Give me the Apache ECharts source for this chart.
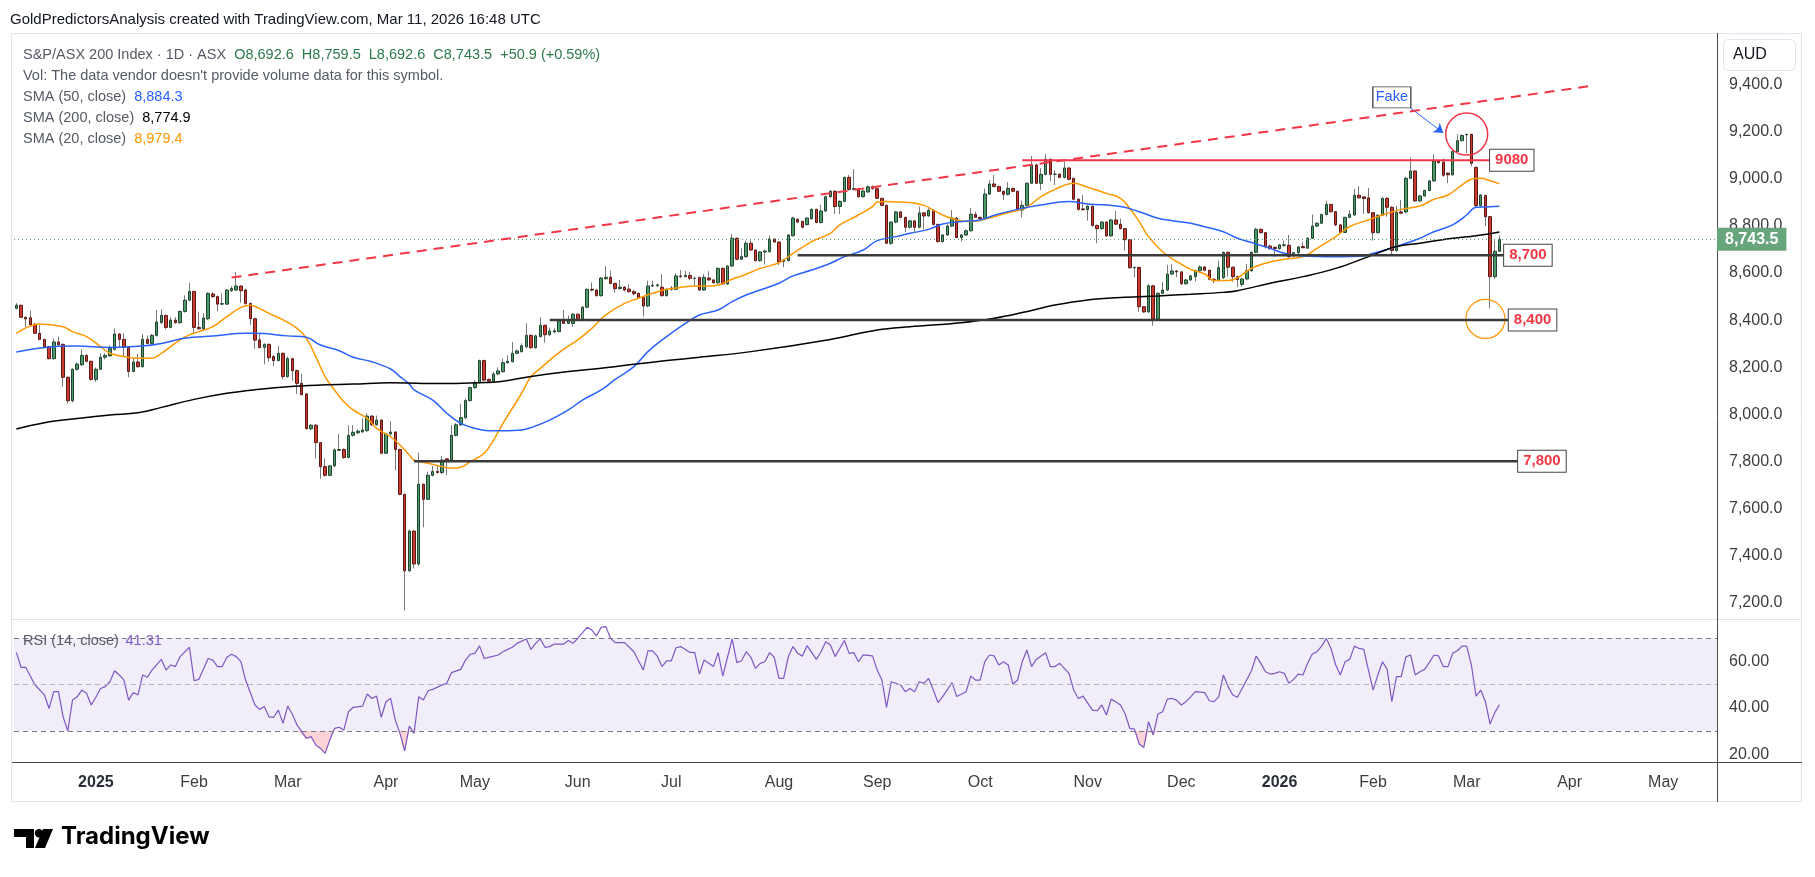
<!DOCTYPE html>
<html>
<head>
<meta charset="utf-8">
<script src="https://cdn.jsdelivr.net/npm/echarts@6/dist/echarts.min.js"></script>
<style>
  html, body { margin: 0; padding: 0; background: #fff; }
  #chart { width: 1815px; height: 877px; }
</style>
</head>
<body>
<div id="chart"></div>
<script>
// S&P/ASX 200 daily candles, [open, close, low, high], one array per month
const dec24 = [
  [8450,8463,8446,8472],[8463,8412,8410,8466],[8412,8405,8370,8415],[8410,8380,8378,8440],
  [8383,8344,8341,8386],[8344,8318,8316,8379],[8318,8284,8280,8320],[8287,8236,8233,8290],
  [8236,8307,8233,8322],[8307,8295,8293,8330],[8297,8157,8117,8300],[8157,8057,8046,8160],
  [8057,8191,8050,8195],[8191,8213,8185,8219],[8210,8250,8205,8276],[8250,8225,8220,8255],
  [8225,8148,8143,8228]
];
const jan25 = [
  [8148,8191,8137,8199],[8191,8242,8188,8259],[8242,8250,8233,8259],[8248,8279,8245,8293],
  [8276,8341,8270,8364],[8341,8318,8287,8344],[8318,8284,8245,8344],[8284,8182,8157,8287],
  [8182,8222,8178,8239],[8222,8202,8198,8256],[8202,8318,8198,8341],[8318,8301,8297,8335],
  [8301,8335,8297,8341],[8335,8392,8330,8443],[8389,8420,8385,8446],[8420,8369,8361,8423],
  [8369,8400,8365,8412],[8400,8389,8385,8412],[8389,8437,8385,8440],[8437,8485,8432,8505],
  [8485,8522,8480,8559]
];
const feb25 = [
  [8522,8369,8344,8525],[8369,8363,8360,8436],[8363,8409,8358,8430],[8406,8514,8400,8518],
  [8511,8500,8495,8520],[8500,8468,8437,8505],[8468,8470,8465,8514],[8468,8528,8465,8532],
  [8525,8534,8520,8545],[8528,8545,8525,8605],[8545,8525,8474,8548],[8528,8471,8465,8534],
  [8471,8406,8380,8475],[8406,8315,8278,8410],[8316,8283,8280,8344],[8284,8297,8212,8301],
  [8297,8240,8223,8300],[8245,8228,8205,8252],[8228,8259,8225,8290],[8259,8160,8148,8262]
];
const mar25 = [
  [8160,8236,8155,8245],[8236,8185,8143,8240],[8185,8131,8086,8190],[8131,8083,8080,8171],
  [8086,7938,7935,8090],[7938,7953,7932,7958],[7953,7879,7811,7958],[7879,7777,7726,7882],
  [7777,7740,7734,7811],[7740,7780,7736,7785],[7780,7848,7775,7855],[7846,7850,7843,7916],
  [7850,7816,7810,7855],[7816,7910,7812,7953],[7910,7923,7905,7954],[7921,7928,7915,7935],
  [7925,7933,7920,7982],[7930,7992,7925,8004],[7992,7955,7950,7995],[7955,7975,7950,7994],
  [7975,7834,7830,7978]
];
const apr25 = [
  [7834,7916,7830,7920],[7916,7924,7910,7970],[7924,7850,7760,7928],[7850,7659,7655,7853],
  [7659,7334,7165,7662],[7334,7503,7330,7510],[7503,7363,7344,7506],[7363,7702,7355,7836],
  [7702,7638,7519,7705],[7638,7740,7635,7755],[7740,7756,7735,7780],[7756,7752,7748,7784],
  [7752,7805,7745,7822],[7810,7805,7740,7812],[7805,7910,7800,7953],[7910,7955,7905,7962],
  [7955,7985,7950,8043],[7985,8058,7980,8066],[8058,8113,8053,8117]
];
const may25 = [
  [8113,8134,8108,8145],[8134,8228,8130,8232],[8228,8145,8140,8232],[8148,8140,8135,8152],
  [8140,8171,8137,8181],[8171,8184,8165,8199],[8181,8219,8176,8237],[8219,8225,8214,8250],
  [8223,8259,8220,8307],[8259,8269,8255,8275],[8266,8291,8262,8301],[8287,8335,8280,8386],
  [8335,8283,8278,8340],[8283,8333,8278,8338],[8330,8378,8326,8412],[8378,8338,8304,8380],
  [8338,8354,8333,8368],[8350,8355,8343,8365],[8351,8398,8348,8406],[8398,8386,8383,8443],
  [8386,8401,8383,8419],[8386,8425,8372,8430]
];
const jun25 = [
  [8425,8401,8397,8428],[8401,8455,8397,8460],[8455,8531,8450,8535],[8531,8528,8522,8560],
  [8528,8504,8500,8532],[8504,8579,8500,8583],[8576,8582,8572,8630],[8582,8556,8552,8610],
  [8556,8534,8517,8559],[8534,8540,8530,8571],[8540,8528,8522,8545],[8532,8521,8517,8553],
  [8521,8512,8505,8530],[8514,8496,8493,8517],[8496,8460,8415,8500],[8460,8545,8455,8568],
  [8545,8548,8540,8568],[8547,8550,8540,8555],[8540,8504,8500,8596],[8504,8531,8500,8535]
];
const jul25 = [
  [8531,8536,8525,8545],[8531,8588,8527,8600],[8588,8585,8580,8613],[8585,8590,8582,8610],
  [8590,8578,8570,8606],[8578,8578,8545,8585],[8581,8528,8525,8585],[8528,8582,8525,8596],
  [8579,8571,8567,8608],[8571,8559,8555,8574],[8559,8620,8555,8624],[8620,8554,8550,8624],
  [8554,8630,8550,8634],[8630,8748,8625,8766],[8748,8659,8655,8752],[8659,8670,8655,8705],
  [8670,8727,8665,8738],[8727,8698,8695,8740],[8698,8653,8650,8700],[8653,8690,8648,8694],
  [8690,8694,8636,8700],[8691,8745,8688,8759],[8745,8732,8728,8747]
];
const aug25 = [
  [8732,8647,8634,8735],[8649,8656,8625,8661],[8653,8762,8650,8766],[8759,8834,8755,8840],
  [8829,8817,8814,8832],[8820,8795,8790,8822],[8806,8834,8803,8838],[8831,8871,8828,8876],
  [8871,8815,8812,8874],[8815,8864,8810,8890],[8864,8925,8860,8930],[8925,8948,8920,8952],
  [8948,8883,8851,8952],[8883,8905,8851,8910],[8905,9007,8900,9010],[9007,8956,8950,9017],
  [8956,8959,8952,9041],[8959,8925,8920,8962],[8925,8949,8920,8952],[8945,8967,8942,8973],
  [8967,8959,8955,8973]
];
const sep25 = [
  [8959,8918,8915,8962],[8918,8888,8885,8920],[8888,8727,8724,8892],[8727,8817,8720,8820],
  [8817,8860,8812,8865],[8860,8837,8833,8863],[8837,8795,8775,8840],[8795,8822,8790,8826],
  [8822,8795,8772,8826],[8795,8856,8790,8883],[8856,8843,8786,8860],[8843,8867,8840,8876],
  [8867,8807,8803,8870],[8807,8734,8730,8810],[8734,8762,8730,8766],[8762,8800,8758,8812],
  [8800,8834,8796,8868],[8834,8751,8748,8838],[8751,8762,8734,8766],[8762,8780,8758,8786],
  [8780,8850,8776,8877],[8849,8837,8835,8861]
];
const oct25 = [
  [8837,8832,8828,8840],[8833,8936,8830,8960],[8936,8979,8932,8996],[8979,8968,8965,9017],
  [8968,8948,8945,8972],[8948,8935,8911,8950],[8935,8960,8930,8987],[8960,8948,8944,8963],
  [8948,8868,8863,8950],[8868,8888,8837,8908],[8888,8982,8884,8985],[8982,9060,8978,9098],
  [9060,8982,8978,9065],[8982,9020,8953,9047],[9020,9084,9015,9106],[9084,9020,8990,9088],
  [9020,9020,8975,9038],[9021,9007,9003,9024],[9007,9047,9003,9074],[9047,8999,8994,9050],
  [9003,8914,8910,9006],[8914,8871,8866,8917],[8873,8870,8866,8932]
];
const nov25 = [
  [8870,8884,8823,8888],[8884,8802,8798,8888],[8803,8789,8727,8806],[8789,8817,8785,8820],
  [8817,8758,8755,8820],[8758,8826,8755,8830],[8826,8808,8805,8864],[8808,8789,8785,8832],
  [8789,8742,8695,8792],[8742,8623,8618,8745],[8623,8624,8582,8628],[8624,8457,8435,8627],
  [8457,8435,8430,8460],[8435,8546,8430,8553],[8546,8405,8376,8550],[8405,8514,8400,8518],
  [8514,8528,8510,8562],[8528,8596,8524,8635],[8596,8609,8592,8638],[8609,8605,8582,8612]
];
const dec25 = [
  [8605,8555,8550,8608],[8555,8571,8550,8574],[8571,8588,8567,8593],[8585,8610,8565,8614],
  [8610,8626,8605,8633],[8626,8612,8608,8630],[8612,8574,8570,8615],[8574,8568,8556,8577],
  [8568,8623,8565,8653],[8581,8688,8575,8692],[8688,8625,8585,8692],[8625,8585,8563,8628],
  [8585,8573,8540,8588],[8552,8575,8542,8580],[8575,8610,8570,8639],[8610,8688,8605,8692],
  [8688,8786,8684,8793],[8786,8772,8768,8790],[8772,8713,8705,8775],[8715,8704,8700,8720],
  [8710,8704,8670,8712]
];
const jan26 = [
  [8704,8720,8700,8724],[8718,8720,8712,8738],[8718,8670,8665,8762],[8673,8687,8668,8690],
  [8687,8711,8670,8715],[8713,8708,8705,8733],[8706,8748,8703,8752],[8748,8800,8745,8849],
  [8800,8812,8795,8815],[8812,8849,8808,8853],[8849,8892,8845,8908],[8892,8861,8857,8895],
  [8861,8805,8800,8864],[8805,8773,8769,8808],[8773,8837,8770,8840],[8837,8850,8833,8868],
  [8847,8931,8843,8958],[8931,8920,8916,8970],[8924,8917,8851,8927],[8920,8857,8853,8962]
];
const feb26 = [
  [8857,8772,8738,8860],[8772,8846,8768,8850],[8846,8918,8843,8922],[8918,8880,8840,8922],
  [8880,8696,8677,8884],[8696,8858,8690,8885],[8860,8855,8852,8911],[8860,9003,8855,9010],
  [9003,9034,9000,9092],[9034,8907,8903,9038],[8907,8928,8903,8932],[8928,8951,8925,8955],
  [8951,8992,8948,8996],[8992,9077,8988,9105],[9077,9070,9066,9080],[9072,9016,9010,9088],
  [9025,9018,8982,9028],[9018,9117,9014,9121],[9117,9163,9113,9190],[9163,9185,9160,9190]
];
const mar26 = [
  [9188,9190,9110,9193],[9190,9067,9056,9193],[9050,8887,8880,9052],[8887,8932,8880,8936],
  [8930,8840,8800,8933],[8840,8585,8450,8843],[8585,8692.6,8575,8738],[8692.6,8743.5,8692.6,8759.5]
];

// moving averages, [bar index, value]
const sma20 = [[0,8344],[5,8384],[10,8372],[12,8351],[15,8330],[18,8287],[20,8259],[23,8245],[26,8238],[29,8238],[31,8259],[33,8287],[35,8316],[37,8337],[39,8351],[42,8372],[45,8415],[48,8454],[50,8463],[52,8449],[54,8429],[57,8401],[60,8365],[62,8323],[64,8245],[66,8160],[68,8103],[70,8053],[72,8018],[75,7982],[77,7940],[80,7904],[82,7869],[84,7826],[85,7805],[88,7791],[91,7777],[93,7770],[95,7774],[97,7798],[100,7834],[102,7890],[104,7960],[108,8089],[110,8160],[112,8195],[116,8262],[120,8316],[123,8365],[126,8422],[130,8471],[133,8493],[136,8514],[139,8531],[142,8539],[145,8545],[148,8545],[150,8549],[153,8574],[156,8595],[159,8620],[163,8644],[166,8684],[170,8734],[174,8769],[176,8805],[180,8847],[183,8883],[184,8902],[186,8904],[189,8902],[191,8900],[194,8888],[196,8868],[198,8847],[201,8826],[204,8819],[207,8829],[209,8840],[212,8857],[214,8866],[216,8880],[219,8925],[222,8956],[226,8982],[229,8965],[233,8939],[236,8918],[238,8875],[240,8819],[242,8755],[245,8691],[248,8649],[251,8616],[254,8596],[256,8568],[259,8568],[261,8580],[264,8620],[267,8642],[271,8659],[275,8670],[278,8705],[282,8755],[285,8798],[289,8826],[292,8847],[296,8871],[300,8885],[303,8914],[306,8932],[309,8975],[311,8999],[313,9003],[315,8993],[317,8979.4]];
const sma50 = [[0,8264],[6,8284],[13,8290],[20,8284],[27,8290],[31,8301],[36,8323],[42,8332],[49,8344],[51,8344],[58,8333],[62,8327],[65,8294],[69,8270],[72,8242],[76,8223],[80,8192],[82,8160],[84,8128],[85,8103],[89,8060],[92,8004],[95,7961],[98,7940],[101,7930],[104,7930],[108,7933],[110,7943],[114,7975],[118,8018],[121,8060],[125,8103],[128,8148],[132,8202],[135,8266],[139,8330],[143,8386],[146,8422],[150,8443],[153,8479],[156,8507],[159,8528],[163,8557],[166,8588],[170,8613],[174,8642],[177,8670],[181,8698],[184,8738],[188,8755],[191,8769],[195,8786],[198,8809],[202,8819],[206,8826],[209,8846],[214,8871],[219,8890],[225,8904],[229,8894],[236,8883],[240,8861],[244,8833],[247,8823],[251,8812],[254,8797],[258,8776],[261,8748],[264,8730],[268,8705],[271,8684],[275,8673],[282,8670],[288,8673],[290,8684],[295,8713],[300,8748],[303,8776],[307,8805],[310,8847],[312,8880],[315,8882],[317,8884.3]];
const sma200 = [[0,7937],[6,7964],[13,7982],[20,7997],[26,8006],[31,8029],[38,8063],[45,8089],[52,8106],[58,8117],[65,8124],[72,8128],[80,8134],[87,8131],[94,8131],[101,8135],[104,8140],[110,8160],[118,8181],[125,8195],[132,8212],[139,8228],[146,8242],[157,8266],[174,8318],[184,8358],[191,8372],[202,8389],[209,8408],[215,8432],[222,8464],[229,8486],[237,8497],[244,8503],[251,8510],[258,8518],[261,8525],[268,8557],[275,8585],[282,8620],[289,8670],[295,8713],[300,8727],[307,8748],[312,8759],[317,8774.9]];

const rsi14 = [[0,63.8],[1,57.4],[2,57.4],[4,49.8],[6,45.5],[7,39.7],[8,46.9],[9,46.9],[10,36.1],[11,30.0],[12,43.3],[13,44.7],[14,47.6],[15,46.2],[16,41.2],[17,44.5],[18,48.3],[19,49.1],[20,51.2],[21,55.9],[22,54.1],[23,51.9],[24,43.3],[25,46.5],[26,45.5],[27,54.1],[28,53.1],[29,56.2],[31,60.8],[32,56.2],[33,58.4],[34,57.7],[35,62.0],[37,66.0],[38,51.6],[39,52.2],[41,61.2],[42,60.5],[43,57.7],[44,57.7],[45,61.7],[46,63.0],[47,62.0],[48,59.8],[49,51.9],[51,41.2],[52,39.3],[53,40.5],[54,36.1],[55,35.9],[56,39.0],[57,33.3],[58,40.7],[59,37.2],[60,32.6],[62,26.8],[63,27.6],[64,24.0],[65,22.5],[66,20.4],[67,26.1],[68,31.1],[69,31.6],[70,30.4],[71,38.3],[72,40.2],[74,40.7],[75,45.9],[76,44.0],[77,45.0],[78,35.9],[79,42.6],[80,44.0],[81,34.7],[82,29.0],[83,21.5],[84,32.1],[85,29.0],[86,44.7],[87,43.3],[88,47.3],[89,47.9],[91,49.8],[92,50.5],[93,55.1],[95,56.5],[96,60.5],[97,63.0],[98,63.4],[99,66.6],[100,61.2],[101,61.7],[103,62.7],[104,64.1],[105,65.1],[106,66.0],[107,67.7],[109,69.6],[110,65.1],[111,67.7],[112,69.6],[113,66.0],[114,66.3],[115,67.4],[117,67.4],[118,68.9],[119,67.7],[120,69.9],[122,74.6],[123,73.4],[124,70.9],[125,74.6],[126,74.9],[127,69.9],[128,68.0],[130,68.0],[131,66.0],[132,64.1],[134,56.2],[135,64.5],[136,64.5],[137,62.2],[138,57.7],[139,60.2],[140,60.2],[141,65.8],[142,66.3],[144,63.8],[145,63.7],[146,54.5],[147,60.5],[149,57.7],[150,63.7],[151,53.6],[152,61.7],[153,69.6],[154,59.4],[155,60.2],[156,64.1],[157,61.7],[158,56.9],[159,59.1],[160,59.8],[161,63.7],[162,61.7],[163,52.6],[164,52.6],[165,61.9],[166,66.3],[167,63.4],[168,62.2],[169,66.7],[171,60.8],[172,64.1],[173,68.4],[174,67.0],[175,62.0],[177,68.9],[178,63.4],[179,63.7],[180,59.8],[181,62.7],[183,62.3],[184,56.2],[185,51.9],[186,40.2],[187,51.2],[189,49.8],[190,46.9],[191,48.3],[192,46.9],[193,51.2],[194,50.5],[195,52.6],[196,47.6],[197,42.2],[198,44.8],[200,50.8],[201,44.8],[203,46.9],[204,53.6],[205,51.9],[206,51.9],[207,59.8],[208,62.7],[209,62.3],[210,58.4],[211,59.8],[212,58.4],[213,50.2],[214,51.9],[215,59.8],[216,64.8],[217,57.7],[218,60.8],[220,63.7],[221,57.7],[222,57.7],[223,59.1],[225,54.8],[226,47.6],[227,44.0],[228,45.0],[230,39.0],[231,38.7],[232,41.2],[233,36.9],[234,43.7],[235,42.6],[236,41.2],[237,37.3],[238,31.1],[239,30.8],[240,24.4],[241,22.9],[242,34.0],[243,28.3],[244,37.3],[245,38.3],[246,43.7],[247,44.0],[248,43.3],[249,41.2],[250,42.6],[251,44.7],[252,46.9],[254,46.5],[255,43.0],[256,42.6],[257,44.7],[258,54.1],[259,49.1],[260,45.5],[261,44.5],[262,48.3],[264,55.9],[265,62.2],[266,59.1],[267,55.5],[268,54.5],[269,54.8],[270,55.5],[271,54.8],[272,50.5],[273,52.2],[274,54.5],[275,54.1],[276,59.1],[277,63.1],[278,64.1],[279,66.5],[280,69.8],[281,65.5],[282,58.4],[283,54.1],[284,59.8],[285,60.8],[286,66.5],[287,65.5],[288,65.1],[289,56.2],[290,47.6],[291,54.1],[292,59.8],[293,56.5],[294,42.6],[295,53.4],[296,53.4],[297,61.9],[298,62.7],[299,54.1],[300,55.5],[301,56.5],[302,59.4],[303,62.7],[304,62.3],[305,57.7],[306,57.7],[307,63.4],[308,64.5],[309,66.5],[310,66.5],[311,58.4],[312,45.0],[313,47.6],[314,42.6],[315,33.0],[316,37.9],[317,41.31]];

// drawn levels: [from bar, to bar, price, label]
const levels = [
  [215, 315, 9080, '9080'],
  [167, 318, 8676, '8,700'],
  [114, 319, 8400, '8,400'],
  [85, 321, 7800, '7,800']
];
const trendline = [[46, 8581], [337, 9397]];
const fakeArrow = [[298, 9302], [305, 9196]];
const lastPrice = 8743.5;
const priceTicks = [7200, 7400, 7600, 7800, 8000, 8200, 8400, 8600, 8800, 9000, 9200, 9400];
const rsiTicks = [20, 40, 60];

// ASX trading calendar (plus future slots to the right edge)
const holidays = ['2024-12-25','2024-12-26','2025-01-01','2025-01-27','2025-04-18','2025-04-21',
  '2025-04-25','2025-06-09','2025-12-25','2025-12-26','2026-01-01','2026-01-26','2026-04-03','2026-04-06'];
function tradingDays(start, n) {
  const out = [];
  const d = new Date(start + 'T00:00:00Z');
  while (out.length < n) {
    const wd = d.getUTCDay();
    const s = d.toISOString().slice(0, 10);
    if (wd !== 0 && wd !== 6 && holidays.indexOf(s) < 0) out.push(s);
    d.setUTCDate(d.getUTCDate() + 1);
  }
  return out;
}
const dates = tradingDays('2024-12-05', 364);
const monthStart = new Set();
dates.forEach((d, i) => { if (i > 0 && d.slice(5, 7) !== dates[i - 1].slice(5, 7)) monthStart.add(i); });
const MONTHS = ['Jan','Feb','Mar','Apr','May','Jun','Jul','Aug','Sep','Oct','Nov','Dec'];

const candles = [].concat(dec24, jan25, feb25, mar25, apr25, may25, jun25, jul25, aug25, sep25,
  oct25, nov25, dec25, jan26, feb26, mar26);
const bodies = candles.map(c => [c[0], c[1], Math.min(c[0], c[1]), Math.max(c[0], c[1])]);
// part of the RSI below 30, for the oversold shading
const oversold = rsi14.map(p => [p[0], Math.min(p[1], 30)]);

const FONT = '"Liberation Sans", Arial, sans-serif';
const fmt1 = v => v.toLocaleString('en-US', { minimumFractionDigits: 1, maximumFractionDigits: 1 });

const chart = echarts.init(document.getElementById('chart'));

const levelSeries = levels.map(l => ({
  type: 'line',
  xAxisIndex: 0, yAxisIndex: 0,
  data: [[l[0], l[2]], [l[1], l[2]]],
  symbol: 'none',
  z: 6,
  lineStyle: { color: l[2] === 9080 ? '#f23645' : '#3a3a3a', width: l[2] === 9080 ? 2 : 2.5 },
  endLabel: {
    show: true, formatter: l[3], distance: 0,
    color: '#f23645', fontWeight: 'bold', fontSize: 15, fontFamily: FONT,
    backgroundColor: '#fff', borderColor: '#444', borderWidth: 1, padding: [3, 5]
  }
}));

const option = {
  animation: false,
  backgroundColor: '#ffffff',
  textStyle: { fontFamily: FONT },
  grid: [
    { left: 14, right: 98, top: 33, height: 586 },
    { left: 14, right: 98, top: 619, height: 143 }
  ],
  xAxis: [
    { type: 'category', gridIndex: 0, data: dates, axisLine: { show: false }, axisTick: { show: false },
      axisLabel: { show: false }, splitLine: { show: false } },
    { type: 'category', gridIndex: 1, data: dates,
      axisLine: { lineStyle: { color: '#4a4a4a', width: 1 } }, axisTick: { show: false }, splitLine: { show: false },
      axisLabel: {
        interval: (i) => monthStart.has(i),
        margin: 13, fontSize: 16, color: '#3d3d3d', fontFamily: FONT,
        formatter: v => { const m = +v.slice(5, 7); return m === 1 ? '{y|' + v.slice(0, 4) + '}' : MONTHS[m - 1]; },
        rich: { y: { fontWeight: 'bold', fontSize: 16, color: '#2a2e39', fontFamily: FONT } }
      } }
  ],
  yAxis: [
    { type: 'value', gridIndex: 0, position: 'right', min: 7129, max: 9621, scale: true,
      splitLine: { show: false }, axisLine: { show: false }, axisTick: { show: false },
      axisLabel: { customValues: priceTicks, formatter: v => fmt1(v), margin: 12, fontSize: 16, color: '#3d3d3d' } },
    { type: 'value', gridIndex: 1, position: 'right', min: 16.67, max: 78.17,
      splitLine: { show: false }, axisLine: { show: false }, axisTick: { show: false },
      axisLabel: { customValues: rsiTicks, formatter: v => v.toFixed(2), margin: 12, fontSize: 16, color: '#3d3d3d' } }
  ],
  series: [
    { // wicks
      type: 'candlestick', xAxisIndex: 0, yAxisIndex: 0, data: candles, barWidth: 0.6, z: 2,
      itemStyle: { color: '#7a7a7a', color0: '#7a7a7a', borderColor: '#7a7a7a', borderColor0: '#7a7a7a', borderWidth: 1 }
    },
    { // bodies
      type: 'candlestick', xAxisIndex: 0, yAxisIndex: 0, data: bodies, barWidth: 3, z: 3,
      itemStyle: { color: '#4a9a69', color0: '#cc3a2f', borderColor: '#22442f', borderColor0: '#571a14', borderWidth: 1 },
      markLine: {
        silent: true, symbol: 'none',
        data: [{
          yAxis: lastPrice,
          lineStyle: { color: '#4f9d70', type: [1, 3], width: 1 },
          label: { show: true, position: 'end', distance: 0, formatter: fmt1(lastPrice),
            backgroundColor: '#68a57d', color: '#fff', fontSize: 16, fontWeight: 'bold', padding: [4, 8, 3, 8], fontFamily: FONT }
        }]
      },
      markPoint: {
        silent: true,
        data: [
          { coord: [310, 9191], symbol: 'circle', symbolSize: 42,
            itemStyle: { color: 'rgba(0,0,0,0)', borderColor: '#f23645', borderWidth: 1.5 }, label: { show: false } },
          { coord: [314, 8405], symbol: 'circle', symbolSize: 39,
            itemStyle: { color: 'rgba(0,0,0,0)', borderColor: '#ff9800', borderWidth: 1.2 }, label: { show: false } },
          { coord: [294, 9347], symbol: 'rect', symbolSize: [38, 21],
            itemStyle: { color: '#fff', borderColor: '#444', borderWidth: 1 },
            label: { show: true, position: 'inside', formatter: 'Fake', color: '#2962ff', fontSize: 14.5, fontFamily: FONT } }
        ]
      }
    },
    { name: 'SMA 20', type: 'line', xAxisIndex: 0, yAxisIndex: 0, data: sma20, symbol: 'none', smooth: 0.4, z: 4,
      lineStyle: { color: '#ff9800', width: 1.5 } },
    { name: 'SMA 50', type: 'line', xAxisIndex: 0, yAxisIndex: 0, data: sma50, symbol: 'none', smooth: 0.4, z: 4,
      lineStyle: { color: '#2962ff', width: 1.5 } },
    { name: 'SMA 200', type: 'line', xAxisIndex: 0, yAxisIndex: 0, data: sma200, symbol: 'none', smooth: 0.4, z: 4,
      lineStyle: { color: '#000000', width: 1.5 } },
    { // RSI line with band
      type: 'line', xAxisIndex: 1, yAxisIndex: 1, data: rsi14, symbol: 'none', z: 4,
      lineStyle: { color: '#7e57c2', width: 1.2 },
      markArea: { silent: true, itemStyle: { color: 'rgba(126,87,194,0.1)' }, data: [[{ yAxis: 30 }, { yAxis: 70 }]] },
      markLine: {
        silent: true, symbol: 'none', label: { show: false },
        data: [
          { yAxis: 70, lineStyle: { color: '#787b86', type: [5, 4], width: 1 } },
          { yAxis: 50, lineStyle: { color: '#b2b5be', type: [5, 4], width: 1 } },
          { yAxis: 30, lineStyle: { color: '#787b86', type: [5, 4], width: 1 } }
        ]
      }
    },
    { // oversold fill
      type: 'line', xAxisIndex: 1, yAxisIndex: 1, data: oversold, symbol: 'none', z: 3, silent: true,
      lineStyle: { width: 0, opacity: 0 }, areaStyle: { origin: 30, color: 'rgba(242,54,69,0.22)', opacity: 1 }
    },
    { // red dashed resistance trendline, plus the arrow pointing at the false breakout
      type: 'line', xAxisIndex: 0, yAxisIndex: 0, data: trendline, symbol: 'none', z: 6,
      lineStyle: { color: '#f23645', width: 2, type: [10, 7] },
      markLine: {
        silent: true, symbol: ['none', 'arrow'], symbolSize: 9, label: { show: false },
        lineStyle: { color: '#2962ff', width: 1, type: 'solid' },
        data: [[{ coord: fakeArrow[0] }, { coord: fakeArrow[1] }]]
      }
    }
  ].concat(levelSeries),
  graphic: [
    { type: 'text', left: 10, top: 12, silent: true,
      style: { text: 'GoldPredictorsAnalysis created with TradingView.com, Mar 11, 2026 16:48 UTC',
        font: '15px ' + FONT, fill: '#131722' } },
    { type: 'rect', silent: true, z: -1, shape: { x: 11.5, y: 33.5, width: 1790, height: 768 },
      style: { fill: 'none', stroke: '#e0e3eb', lineWidth: 1 } },
    { type: 'line', silent: true, shape: { x1: 12, y1: 619.5, x2: 1802, y2: 619.5 },
      style: { stroke: '#e0e3eb', lineWidth: 1 } },
    { type: 'line', silent: true, shape: { x1: 1717.5, y1: 33, x2: 1717.5, y2: 802 },
      style: { stroke: '#4a4a4a', lineWidth: 1 } },
    { type: 'line', silent: true, shape: { x1: 12, y1: 762.5, x2: 1802, y2: 762.5 },
      style: { stroke: '#4a4a4a', lineWidth: 1 } },
    { type: 'rect', silent: true, shape: { x: 1723.5, y: 39.5, width: 72, height: 31, r: 5 },
      style: { fill: '#fff', stroke: '#e0e3eb', lineWidth: 1 } },
    { type: 'text', silent: true, left: 1733, top: 47,
      style: { text: 'AUD', font: '16px ' + FONT, fill: '#131722' } },
    { type: 'text', silent: true, left: 23, top: 44, z: 10,
      style: {
        text: '{n|S&P/ASX 200 Index · 1D · ASX}  {g|O8,692.6}  {g|H8,759.5}  {g|L8,692.6}  {g|C8,743.5}  {g|+50.9 (+0.59%)}\n' +
              '{n|Vol: The data vendor doesn\'t provide volume data for this symbol.}\n' +
              '{n|SMA (50, close)}  {b|8,884.3}\n' +
              '{n|SMA (200, close)}  {k|8,774.9}\n' +
              '{n|SMA (20, close)}  {o|8,979.4}',
        font: '14.5px ' + FONT, lineHeight: 21,
        rich: {
          n: { fill: '#555a66', fontSize: 14.5, fontFamily: FONT, lineHeight: 21 },
          g: { fill: '#2b7a4b', fontSize: 14.5, fontFamily: FONT, lineHeight: 21 },
          b: { fill: '#2962ff', fontSize: 14.5, fontFamily: FONT, lineHeight: 21 },
          k: { fill: '#000000', fontSize: 14.5, fontFamily: FONT, lineHeight: 21 },
          o: { fill: '#ff9800', fontSize: 14.5, fontFamily: FONT, lineHeight: 21 }
        }
      } },
    { type: 'text', silent: true, left: 23, top: 633, z: 10,
      style: {
        text: '{n|RSI (14, close)}  {p|41.31}',
        rich: {
          n: { fill: '#555a66', fontSize: 14.5, fontFamily: FONT },
          p: { fill: '#7e57c2', fontSize: 14.5, fontFamily: FONT }
        }
      } },
    { type: 'group', silent: true, left: 14, top: 829, children: [
      { type: 'polygon', shape: { points: [[0, 0], [20, 0], [20, 19], [12, 19], [12, 8], [0, 8]] }, style: { fill: '#000' } },
      { type: 'circle', shape: { cx: 25, cy: 4.2, r: 4.2 }, style: { fill: '#000' } },
      { type: 'polygon', shape: { points: [[29, 0], [39, 0], [31, 19], [21, 19]] }, style: { fill: '#000' } }
    ] },
    { type: 'text', silent: true, left: 61, top: 825,
      style: { text: 'TradingView', font: 'bold 24px Inter, Roboto, sans-serif', fill: '#000' } }
  ]
};

chart.setOption(option);
</script>
</body>
</html>
